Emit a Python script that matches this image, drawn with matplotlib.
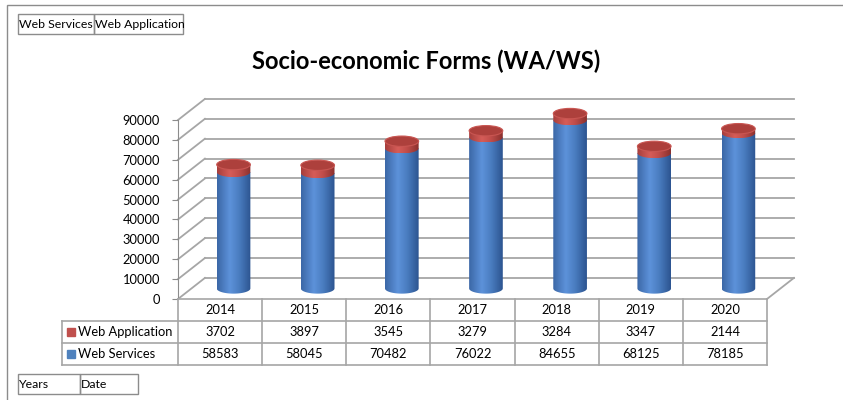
import numpy as np
import matplotlib.pyplot as plt
from matplotlib.path import Path
from matplotlib.patches import PathPatch, Ellipse, Rectangle
from matplotlib.colors import LinearSegmentedColormap

plt.rcParams['font.family'] = 'Lato'

# data
years = ['2014', '2015', '2016', '2017', '2018', '2019', '2020']
web_application = [3702, 3897, 3545, 3279, 3284, 3347, 2144]
web_services = [58583, 58045, 70482, 76022, 84655, 68125, 78185]
y_ticks = list(range(0, 90001, 10000))
title = 'Socio-economic Forms (WA/WS)'

W, H = 843, 400
GRID = '#a6a6a6'
DEPTH_X = 0.32      # depth of the 3d box, in category units
DEPTH_Y = 10600     # depth of the 3d box, in value units
BAR_W = 0.40
CAP_H = 5200
LABEL_W = 116 / 84.14


def px_box(l, t, r, b):
    return [l / W, 1 - b / H, (r - l) / W, (b - t) / H]


fig = plt.figure(figsize=(W / 100, H / 100), dpi=100)

# outer chart border (top + left are visible)
fig.patches.append(Rectangle((7 / W, -0.1), 1.2, 1.1 - 5 / H, transform=fig.transFigure,
                             fill=False, edgecolor='#8c8c8c', lw=1))

ax = fig.add_axes(px_box(178, 120, 767, 299))
ax.patch.set_visible(False)
for s in ['top', 'right', 'bottom']:
    ax.spines[s].set_visible(False)
ax.spines['left'].set_color('#8c8c8c')
ax.set_xticks([])
ax.set_yticks(y_ticks)
ax.tick_params(axis='y', length=4, color='#8c8c8c', labelsize=9.3, pad=9)

n = len(years)
# back wall, left wall and floor
for v in y_ticks:
    ax.plot([DEPTH_X, n + DEPTH_X], [v + DEPTH_Y, v + DEPTH_Y], color=GRID, lw=1.3, zorder=1, clip_on=False)
    ax.plot([0, DEPTH_X], [v, v + DEPTH_Y], color=GRID, lw=1.3, zorder=1, clip_on=False)
ax.plot([n, n + DEPTH_X], [0, DEPTH_Y], color=GRID, lw=1.3, zorder=1, clip_on=False)

blue = LinearSegmentedColormap.from_list('b', [(0, '#3b67a6'), (0.38, '#5d92da'), (0.65, '#4a7dc0'), (1, '#2c5490')])
red = LinearSegmentedColormap.from_list('r', [(0, '#a63e3b'), (0.38, '#d65d59'), (0.65, '#c04d4a'), (1, '#8a302d')])
grad = np.linspace(0, 1, 256)[np.newaxis, :]


def draw_segment(cx, y0, y1, cmap, z):
    hw, hh = BAR_W / 2, CAP_H / 2
    theta = np.linspace(np.pi, 2 * np.pi, 80)
    verts = [(cx - hw, y1)] + list(zip(cx + hw * np.cos(theta), y0 + hh * np.sin(theta)))
    verts += [(cx + hw, y1), (cx - hw, y1)]
    patch = PathPatch(Path(verts), facecolor='none', edgecolor='none', transform=ax.transData)
    ax.add_patch(patch)
    im = ax.imshow(grad, extent=[cx - hw, cx + hw, y0 - hh, y1], cmap=cmap, aspect='auto',
                   interpolation='bicubic', zorder=z, origin='lower')
    im.set_clip_path(patch)
    im.set_clip_box(fig.bbox)


for i in range(n):
    cx = i + 0.5 + DEPTH_X / 2
    base = DEPTH_Y / 2
    top_ws = base + web_services[i]
    top_wa = top_ws + web_application[i]
    draw_segment(cx, base, top_ws, blue, 3)
    draw_segment(cx, top_ws, top_wa, red, 4)
    ax.add_patch(Ellipse((cx, top_wa), BAR_W, CAP_H, facecolor='#ad403c', edgecolor='#c95652',
                         lw=0.8, zorder=5, clip_on=False))

ax.set_xlim(0, n)
ax.set_ylim(0, 90000)

# data table
tax = fig.add_axes(px_box(62, 299, 767, 365))
tax.set_xlim(-LABEL_W, n)
tax.set_ylim(3, 0)
tax.axis('off')
tax.plot([0, n], [0, 0], color=GRID, lw=1.2, clip_on=False)
for r in [1, 2, 3]:
    tax.plot([-LABEL_W, n], [r, r], color=GRID, lw=1.2, clip_on=False)
for c in range(n + 1):
    tax.plot([c, c], [0, 3], color=GRID, lw=1.2, clip_on=False)
tax.plot([-LABEL_W, -LABEL_W], [1, 3], color=GRID, lw=1.2, clip_on=False)

rows = [('Web Application', web_application, '#c0504d'), ('Web Services', web_services, '#4f81bd')]
for i, y in enumerate(years):
    tax.text(i + 0.5, 0.52, y, ha='center', va='center', fontsize=9.3)
for r, (name, vals, col) in enumerate(rows, start=1):
    tax.plot([-LABEL_W + 0.107], [r + 0.5], marker='s', markersize=5.5, color=col, clip_on=False)
    tax.text(-LABEL_W + 0.19, r + 0.52, name, ha='left', va='center', fontsize=9.3)
    for i, v in enumerate(vals):
        tax.text(i + 0.5, r + 0.52, str(v), ha='center', va='center', fontsize=9.3)

fig.text(426 / W, 1 - 61 / H, title, ha='center', va='center', fontsize=17, weight='bold')


def label_box(l, t, r, b, text):
    fig.patches.append(Rectangle((l / W, 1 - b / H), (r - l) / W, (b - t) / H, transform=fig.transFigure,
                                 fill=False, edgecolor='#8c8c8c', lw=1))
    fig.text((l + 1) / W, 1 - (t + b) / 2 / H, text, ha='left', va='center', fontsize=8.8)


label_box(18, 14, 94, 34, 'Web Services')
label_box(94, 14, 183, 34, 'Web Application')
label_box(18, 374, 80, 394, 'Years')
label_box(80, 374, 138, 394, 'Date')

fig.savefig('out.png', dpi=100)
